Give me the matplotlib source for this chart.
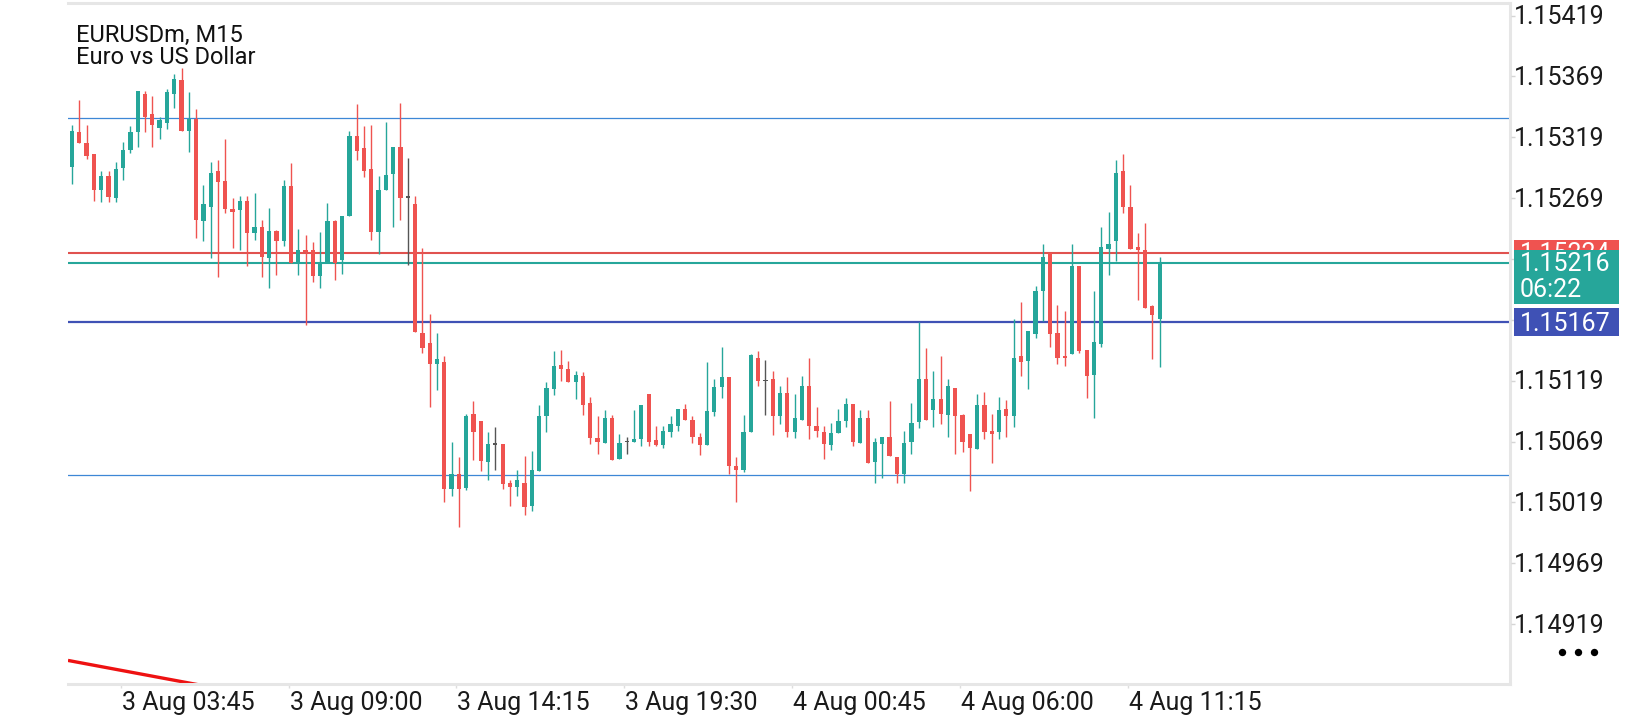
import matplotlib
matplotlib.use("Agg")
import matplotlib.pyplot as plt
from matplotlib.patches import Rectangle
import numpy as np

plt.rcParams["font.family"] = ["Roboto", "DejaVu Sans"]

# EURUSDm M15 candles (oldest first)
opens = [
    1.15295, 1.15323, 1.15314, 1.15305, 1.15276, 1.15287, 1.15269, 1.15294, 1.15309, 1.15323,
    1.15355, 1.15338, 1.15327, 1.15331, 1.15355, 1.15366, 1.15324, 1.15334, 1.15250, 1.15262,
    1.15291, 1.15283, 1.15260, 1.15259, 1.15267, 1.15240, 1.15245, 1.15220, 1.15242, 1.15234,
    1.15279, 1.15216, 1.15226, 1.15226, 1.15205, 1.15216, 1.15250, 1.15218, 1.15254, 1.15320,
    1.15310, 1.15293, 1.15241, 1.15276, 1.15289, 1.15311, 1.15270, 1.15264, 1.15158, 1.15150,
    1.15133, 1.15134, 1.15030, 1.15042, 1.15031, 1.15092, 1.15086, 1.15052, 1.15067, 1.15067,
    1.15035, 1.15032, 1.15035, 1.15016, 1.15045, 1.15090, 1.15112, 1.15132, 1.15129, 1.15118,
    1.15123, 1.15101, 1.15072, 1.15068, 1.15088, 1.15055, 1.15069, 1.15069, 1.15071, 1.15108,
    1.15070, 1.15066, 1.15077, 1.15082, 1.15096, 1.15087, 1.15073, 1.15066, 1.15093, 1.15114,
    1.15122, 1.15049, 1.15046, 1.15077, 1.15138, 1.15119, 1.15120, 1.15090, 1.15109, 1.15077,
    1.15087, 1.15115, 1.15082, 1.15077, 1.15066, 1.15076, 1.15086, 1.15100, 1.15068, 1.15088,
    1.15052, 1.15067, 1.15073, 1.15056, 1.15042, 1.15069, 1.15085, 1.15120, 1.15095, 1.15104,
    1.15091, 1.15113, 1.15091, 1.15075, 1.15063, 1.15099, 1.15078, 1.15077, 1.15096, 1.15090,
    1.15139, 1.15135, 1.15157, 1.15193, 1.15224, 1.15158, 1.15139, 1.15141, 1.15213, 1.15144,
    1.15124, 1.15149, 1.15227, 1.15234, 1.15291, 1.15262, 1.15229, 1.15226, 1.15180, 1.15170,
]
highs = [
    1.15329, 1.15350, 1.15329, 1.15305, 1.15291, 1.15291, 1.15299, 1.15315, 1.15328, 1.15357,
    1.15357, 1.15353, 1.15336, 1.15359, 1.15371, 1.15376, 1.15356, 1.15342, 1.15280, 1.15299,
    1.15300, 1.15318, 1.15269, 1.15271, 1.15271, 1.15273, 1.15251, 1.15261, 1.15243, 1.15284,
    1.15298, 1.15244, 1.15239, 1.15233, 1.15241, 1.15265, 1.15251, 1.15254, 1.15324, 1.15346,
    1.15328, 1.15329, 1.15287, 1.15332, 1.15311, 1.15347, 1.15302, 1.15271, 1.15228, 1.15174,
    1.15158, 1.15139, 1.15069, 1.15056, 1.15092, 1.15102, 1.15086, 1.15077, 1.15081, 1.15067,
    1.15037, 1.15046, 1.15057, 1.15061, 1.15099, 1.15118, 1.15143, 1.15144, 1.15135, 1.15127,
    1.15126, 1.15106, 1.15090, 1.15095, 1.15091, 1.15075, 1.15073, 1.15095, 1.15099, 1.15108,
    1.15082, 1.15082, 1.15090, 1.15096, 1.15100, 1.15090, 1.15076, 1.15134, 1.15120, 1.15147,
    1.15122, 1.15056, 1.15091, 1.15141, 1.15143, 1.15136, 1.15127, 1.15115, 1.15122, 1.15108,
    1.15123, 1.15138, 1.15097, 1.15082, 1.15084, 1.15096, 1.15105, 1.15100, 1.15095, 1.15095,
    1.15072, 1.15073, 1.15102, 1.15056, 1.15078, 1.15101, 1.15167, 1.15146, 1.15127, 1.15139,
    1.15120, 1.15113, 1.15092, 1.15075, 1.15108, 1.15110, 1.15092, 1.15106, 1.15103, 1.15170,
    1.15184, 1.15160, 1.15197, 1.15231, 1.15224, 1.15181, 1.15176, 1.15231, 1.15213, 1.15144,
    1.15193, 1.15245, 1.15258, 1.15300, 1.15305, 1.15280, 1.15240, 1.15249, 1.15181, 1.15221,
]
lows = [
    1.15281, 1.15314, 1.15301, 1.15267, 1.15266, 1.15266, 1.15266, 1.15284, 1.15306, 1.15311,
    1.15323, 1.15311, 1.15318, 1.15326, 1.15343, 1.15324, 1.15307, 1.15236, 1.15234, 1.15220,
    1.15204, 1.15257, 1.15228, 1.15226, 1.15213, 1.15235, 1.15204, 1.15195, 1.15206, 1.15230,
    1.15216, 1.15206, 1.15165, 1.15200, 1.15195, 1.15216, 1.15202, 1.15207, 1.15254, 1.15300,
    1.15286, 1.15235, 1.15223, 1.15276, 1.15245, 1.15251, 1.15214, 1.15159, 1.15142, 1.15097,
    1.15111, 1.15019, 1.15024, 1.14999, 1.15029, 1.15054, 1.15045, 1.15037, 1.15046, 1.15030,
    1.15016, 1.15024, 1.15009, 1.15012, 1.15045, 1.15077, 1.15107, 1.15119, 1.15118, 1.15104,
    1.15091, 1.15067, 1.15059, 1.15068, 1.15054, 1.15055, 1.15059, 1.15069, 1.15065, 1.15065,
    1.15065, 1.15064, 1.15073, 1.15078, 1.15087, 1.15068, 1.15058, 1.15066, 1.15090, 1.15105,
    1.15042, 1.15019, 1.15044, 1.15077, 1.15115, 1.15091, 1.15074, 1.15083, 1.15073, 1.15072,
    1.15087, 1.15071, 1.15073, 1.15055, 1.15062, 1.15076, 1.15081, 1.15065, 1.15068, 1.15051,
    1.15035, 1.15039, 1.15057, 1.15035, 1.15035, 1.15059, 1.15080, 1.15087, 1.15081, 1.15083,
    1.15073, 1.15059, 1.15060, 1.15028, 1.15063, 1.15071, 1.15051, 1.15071, 1.15073, 1.15081,
    1.15123, 1.15112, 1.15154, 1.15168, 1.15147, 1.15133, 1.15131, 1.15141, 1.15142, 1.15105,
    1.15088, 1.15147, 1.15206, 1.15217, 1.15257, 1.15227, 1.15185, 1.15179, 1.15137, 1.15130,
]
closes = [
    1.15324, 1.15314, 1.15304, 1.15276, 1.15287, 1.15270, 1.15293, 1.15309, 1.15323, 1.15357,
    1.15336, 1.15329, 1.15333, 1.15356, 1.15367, 1.15324, 1.15334, 1.15251, 1.15264, 1.15290,
    1.15282, 1.15260, 1.15258, 1.15267, 1.15240, 1.15245, 1.15221, 1.15242, 1.15234, 1.15279,
    1.15216, 1.15226, 1.15225, 1.15205, 1.15216, 1.15250, 1.15216, 1.15254, 1.15320, 1.15308,
    1.15291, 1.15241, 1.15276, 1.15288, 1.15311, 1.15269, 1.15270, 1.15159, 1.15146, 1.15133,
    1.15137, 1.15030, 1.15042, 1.15030, 1.15090, 1.15077, 1.15053, 1.15067, 1.15067, 1.15034,
    1.15032, 1.15037, 1.15015, 1.15046, 1.15090, 1.15113, 1.15131, 1.15129, 1.15118, 1.15124,
    1.15099, 1.15072, 1.15069, 1.15088, 1.15054, 1.15068, 1.15069, 1.15071, 1.15099, 1.15069,
    1.15066, 1.15078, 1.15083, 1.15096, 1.15087, 1.15073, 1.15066, 1.15094, 1.15114, 1.15122,
    1.15049, 1.15046, 1.15077, 1.15140, 1.15119, 1.15119, 1.15090, 1.15109, 1.15077, 1.15088,
    1.15115, 1.15082, 1.15078, 1.15067, 1.15076, 1.15086, 1.15100, 1.15069, 1.15088, 1.15051,
    1.15069, 1.15073, 1.15057, 1.15042, 1.15068, 1.15084, 1.15120, 1.15087, 1.15104, 1.15092,
    1.15115, 1.15090, 1.15069, 1.15064, 1.15099, 1.15077, 1.15075, 1.15095, 1.15090, 1.15138,
    1.15134, 1.15160, 1.15193, 1.15221, 1.15157, 1.15138, 1.15138, 1.15213, 1.15143, 1.15123,
    1.15151, 1.15229, 1.15231, 1.15290, 1.15262, 1.15227, 1.15226, 1.15179, 1.15173, 1.15216,
]

tick_pos = [6.67, 29.67, 52.67, 75.67, 98.67, 121.67, 144.67]
tick_labels = ["3 Aug 03:45", "3 Aug 09:00", "3 Aug 14:15", "3 Aug 19:30",
               "4 Aug 00:45", "4 Aug 06:00", "4 Aug 11:15"]
# 1.15219 and 1.15169 sit under the price boxes, so only their ticks show
price_ticks = [1.15419, 1.15369, 1.15319, 1.15269, 1.15219, 1.15169,
               1.15119, 1.15069, 1.15019, 1.14969, 1.14919]
hidden_ticks = [1.15219, 1.15169]

levels = [1.15335, 1.150415]
level_line = 1.15167
bid = 1.15216
ask = 1.15224
timer = "06:22"
trend_x = [-0.55, 20]
trend_y = [1.148891, 1.148661]

W, H = 1640, 720
BULL = "#26a69a"
BEAR = "#ef5350"
DOJI = "#555555"
LEVEL = "#3f51b5"
FRAME = "#e6e6e6"
FS = 18

fig = plt.figure(figsize=(W / 100, H / 100), dpi=100)
ax = fig.add_axes([68 / W, 1 - 684.4 / H, (1510 - 68) / W, (684.4 - 3) / H])
ax.set_xlim(-0.55, 197.0)
ax.set_ylim(1.148694, 1.154294)

# horizontal levels and trend line
for lv in levels:
    ax.axhline(lv, color="#3d87d6", lw=0.9, zorder=2)
ax.axhline(level_line, color=LEVEL, lw=1.6, zorder=2)
ax.axhline(ask, color="#e0524f", lw=1.5, zorder=2)
ax.axhline(bid, color=BULL, lw=1.5, zorder=2)
ax.plot(trend_x, trend_y, color="#ee1111", lw=2.4, zorder=2,
        solid_capstyle="butt")

# candles
o = np.array(opens)
h = np.array(highs)
l = np.array(lows)
c = np.array(closes)
x = np.arange(len(o))
colors = np.where(c > o, BULL, np.where(c < o, BEAR, DOJI))
ax.vlines(x, l, h, colors=colors, lw=1.0, zorder=3)
height = np.maximum(np.abs(c - o), 0.000009)
bottom = (o + c) / 2 - height / 2
ax.bar(x, height, width=0.58, bottom=bottom, color=colors, linewidth=0,
       zorder=4)

for side in ["top", "right", "bottom"]:
    ax.spines[side].set_color(FRAME)
    ax.spines[side].set_linewidth(2.2)
ax.spines["left"].set_visible(False)
ax.set_xticks(tick_pos)
ax.set_xticklabels([])
ax.tick_params(axis="x", length=3, width=1, color="#dddddd", direction="out")
ax.set_yticks([])

# overlay in pixel coordinates for the price scale and labels
ov = fig.add_axes([0, 0, 1, 1], zorder=5)
ov.set_xlim(0, W)
ov.set_ylim(H, 0)
ov.axis("off")


def price_y(p):
    return H - ax.transData.transform((0, p))[1]


def x_px(t):
    return ax.transData.transform((t, 0))[0]


for p in price_ticks:
    y = price_y(p)
    ov.hlines(y, 1511, 1515.5, color="#d5d5d5", lw=1)
    if p not in hidden_ticks:
        ov.text(1514, y + 8.5, f"{p:.5f}", fontsize=FS, va="baseline",
                color="#1a1a1a")

ov.add_patch(Rectangle((1514, price_y(ask) - 13), 105, 28, fc=BEAR,
                       ec="none", zorder=4))
ov.text(1520, price_y(ask) + 8.5, f"{ask:.5f}", fontsize=FS,
        va="baseline", color="white", zorder=4.2)
ov.add_patch(Rectangle((1514, price_y(bid) - 12.7), 105, 54.3, fc=BULL,
                       ec="none", zorder=4.5))
ov.text(1520, price_y(bid) + 8, f"{bid:.5f}", fontsize=FS,
        va="baseline", color="white", zorder=5)
ov.text(1520, price_y(bid) + 34, timer, fontsize=FS, va="baseline",
        color="white", zorder=5)
ov.add_patch(Rectangle((1514, price_y(level_line) - 14), 105, 28, fc=LEVEL,
                       ec="none", zorder=4))
ov.text(1520, price_y(level_line) + 8.3, f"{level_line:.5f}", fontsize=FS,
        va="baseline", color="white", zorder=5)

ov.plot([1561.7, 1577.7, 1594], [651.7] * 3, "o", color="black", ms=5.3,
        mew=0)

for t, lab in zip(tick_pos, tick_labels):
    ov.text(x_px(t) + 1.0, 710, lab, fontsize=FS, va="baseline",
            color="#1a1a1a")

ov.text(76, 41.7, "EURUSDm, M15", fontsize=17, va="baseline", color="#111111")
ov.text(76, 64.3, "Euro vs US Dollar", fontsize=17, va="baseline",
        color="#111111")

fig.savefig("out.png", dpi=100, facecolor="white")
